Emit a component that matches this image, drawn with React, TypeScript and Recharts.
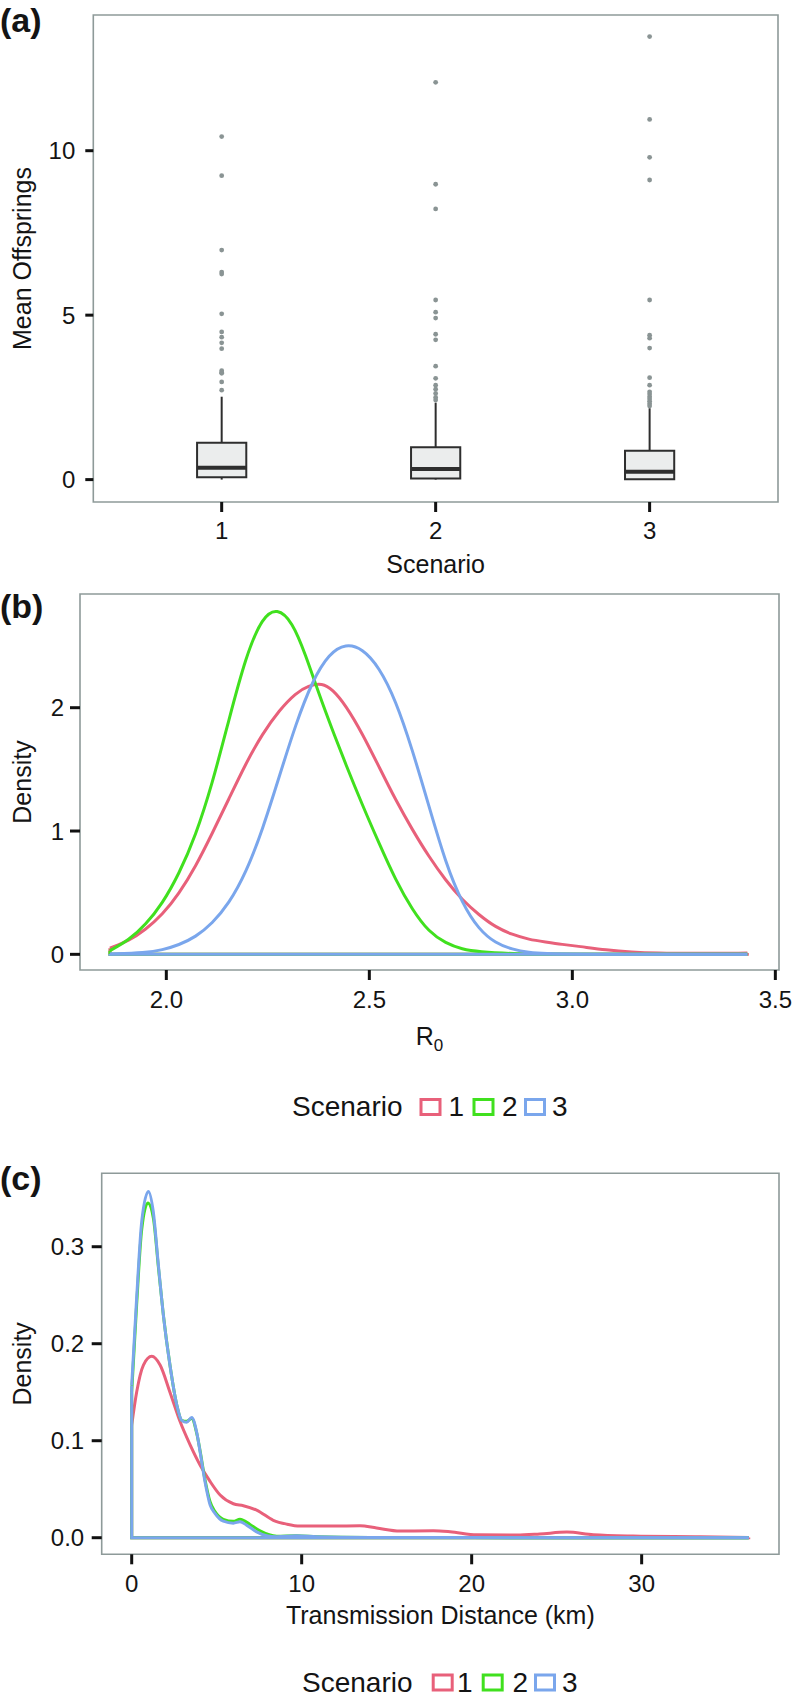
import React from 'react';
import { ComposedChart, Line, XAxis, YAxis, Scatter, ReferenceArea, ReferenceLine } from 'recharts';

const FONT = '"Liberation Sans", Arial, Helvetica, sans-serif';
const INK = '#141414';
const RED = '#E8607A';
const GREEN = '#40E01E';
const BLUE = '#7AA6EC';
const BORDER = '#8E9A99';
const OUTLIER = '#8A9494';
const BOX_FILL = '#EBEDED';
const BOX_LINE = '#2E2E2E';
const BOX_HALF = 0.115;

// ---------- Panel (a): Mean offsprings per scenario ----------
const scenarioPos = [1, 2, 3];
const whiskerLow = [0.0, 0.0, 0.0];
const q1 = [0.07, 0.03, 0.01];
const median = [0.36, 0.32, 0.24];
const q3 = [1.12, 0.98, 0.88];
const whiskerHigh = [2.52, 2.34, 2.17];
const outliers1 = [10.43, 9.24, 6.98, 6.31, 6.25, 5.04, 4.49, 4.33, 4.16, 3.98, 3.31, 3.26, 3.23, 2.97, 2.72];
const outliers2 = [12.08, 8.98, 8.23, 5.46, 5.09, 4.91, 4.42, 4.25, 3.45, 3.08, 2.87, 2.75, 2.62, 2.5, 2.42];
const outliers3 = [13.47, 10.95, 9.8, 9.11, 5.46, 4.39, 4.3, 4.0, 3.1, 2.87, 2.67, 2.6, 2.52, 2.45, 2.38, 2.31, 2.24];
const offspringTicks = [0, 5, 10];

// ---------- Panel (b): R0 densities ----------
const r0Scenario1: [number, number][] = [
  [1.861, 0.05], [1.908, 0.11], [1.949, 0.2], [1.99, 0.32], [2.031, 0.49], [2.072, 0.71], [2.113, 0.98],
  [2.154, 1.26], [2.196, 1.55], [2.237, 1.79], [2.278, 1.98], [2.319, 2.12], [2.35, 2.18], [2.384, 2.2],
  [2.409, 2.15], [2.442, 2.02], [2.483, 1.79], [2.524, 1.52], [2.565, 1.25], [2.606, 1.01], [2.647, 0.79],
  [2.688, 0.6], [2.729, 0.44], [2.77, 0.32], [2.811, 0.22], [2.852, 0.16], [2.893, 0.12], [2.934, 0.1],
  [2.975, 0.08], [3.016, 0.065], [3.084, 0.035], [3.146, 0.018], [3.208, 0.01], [3.3, 0.008], [3.431, 0.01],
];
const r0Scenario2: [number, number][] = [
  [1.861, 0.03], [1.908, 0.116], [1.949, 0.24], [1.99, 0.41], [2.031, 0.65], [2.072, 0.96], [2.113, 1.38],
  [2.154, 1.9], [2.196, 2.42], [2.237, 2.74], [2.273, 2.81], [2.31, 2.7], [2.343, 2.43], [2.376, 2.11],
  [2.409, 1.82], [2.442, 1.54], [2.483, 1.21], [2.524, 0.9], [2.565, 0.6], [2.606, 0.36], [2.647, 0.18],
  [2.688, 0.09], [2.729, 0.04], [2.77, 0.02], [2.852, 0.005], [2.95, 0.001], [3.431, 0.0],
];
const r0Scenario3: [number, number][] = [
  [1.861, 0.003], [1.949, 0.014], [1.99, 0.035], [2.031, 0.076], [2.072, 0.14], [2.113, 0.25], [2.154, 0.41],
  [2.196, 0.66], [2.237, 1.01], [2.278, 1.44], [2.319, 1.87], [2.36, 2.22], [2.401, 2.44], [2.442, 2.52],
  [2.483, 2.48], [2.524, 2.33], [2.565, 2.06], [2.606, 1.66], [2.647, 1.2], [2.688, 0.74], [2.729, 0.41],
  [2.77, 0.2], [2.811, 0.09], [2.852, 0.04], [2.893, 0.014], [2.934, 0.005], [3.0, 0.001], [3.431, 0.0],
];
const r0XTicks = [2.0, 2.5, 3.0, 3.5];
const r0YTicks = [0, 1, 2];

// ---------- Panel (c): transmission distance densities ----------
const distScenario1: [number, number][] = [
  [0, 0.116], [0.29, 0.15], [0.69, 0.178], [1.18, 0.187], [1.67, 0.178], [2.25, 0.15], [2.84, 0.12],
  [3.43, 0.096], [4.02, 0.075], [4.61, 0.058], [5.2, 0.044], [5.98, 0.035], [6.57, 0.033], [7.35, 0.0285],
  [8.33, 0.018], [9.12, 0.014], [9.9, 0.012], [11.86, 0.012], [13.43, 0.0124], [14.41, 0.01], [15.78, 0.0069],
  [17.75, 0.0072], [18.73, 0.0062], [20.3, 0.003], [22.65, 0.0027], [24.0, 0.0038], [25.6, 0.0058],
  [27.16, 0.003], [29.5, 0.0017], [33.45, 0.001], [36.3, 0.0003],
];
const distScenario2: [number, number][] = [
  [0, 0.15], [0.29, 0.24], [0.59, 0.318], [0.95, 0.345], [1.27, 0.33], [1.57, 0.279], [1.86, 0.23],
  [2.25, 0.178], [2.65, 0.137], [2.94, 0.121], [3.23, 0.12], [3.53, 0.123], [3.82, 0.108], [4.02, 0.09],
  [4.31, 0.06], [4.61, 0.037], [4.9, 0.027], [5.39, 0.019], [5.98, 0.017], [6.37, 0.019], [6.96, 0.0137],
  [7.55, 0.007], [8.53, 0.0015], [9.71, 0.002], [10.9, 0.001], [14, 0.0003], [20, 0.0001], [36.3, 0.0],
];
const distScenario3: [number, number][] = [
  [0, 0.157], [0.29, 0.247], [0.59, 0.326], [0.98, 0.357], [1.27, 0.336], [1.57, 0.281], [1.86, 0.23],
  [2.25, 0.178], [2.65, 0.137], [2.94, 0.121], [3.23, 0.119], [3.53, 0.124], [3.82, 0.109], [4.02, 0.089],
  [4.31, 0.058], [4.61, 0.034], [4.9, 0.025], [5.39, 0.017], [5.98, 0.015], [6.37, 0.0165], [6.76, 0.013],
  [7.35, 0.006], [7.94, 0.002], [8.53, 0.001], [9.71, 0.002], [10.9, 0.001], [14, 0.0003], [20, 0.0001],
  [36.3, 0.0],
];
const distXTicks = [0, 10, 20, 30];
const distYTicks = [0, 0.1, 0.2, 0.3];

const legendLabels = ['1', '2', '3'];
const legendColors = [RED, GREEN, BLUE];

const toPoints = (arr: [number, number][]) => arr.map(([x, y]) => ({ x, y }));
const frame = (arr: [number, number][]) => {
  const f = arr[0];
  const l = arr[arr.length - 1];
  return [
    { x: f[0], y: f[1] },
    { x: f[0], y: 0 },
    { x: l[0], y: 0 },
    { x: l[0], y: l[1] },
  ];
};

const tickStyle = { fontSize: 24, fill: INK, fontFamily: FONT };
const tickLineStyle = { stroke: '#111', strokeWidth: 3 };

const xTitle = (text: React.ReactNode, dy: number) => ({
  content: (p: any) => {
    const vb = p.viewBox;
    return (
      <text x={vb.x + vb.width / 2} y={vb.y + dy} textAnchor="middle" fontSize={25} fontFamily={FONT} fill={INK}>
        {text}
      </text>
    );
  },
});
const yTitle = (text: string, bx: number) => ({
  content: (p: any) => {
    const vb = p.viewBox;
    const cy = vb.y + vb.height / 2;
    const x = vb.x + bx;
    return (
      <text x={x} y={cy} transform={`rotate(-90, ${x}, ${cy})`} textAnchor="middle" fontSize={25} fontFamily={FONT} fill={INK}>
        {text}
      </text>
    );
  },
});

function PanelA() {
  const outlierData = [
    ...outliers1.map((y) => ({ x: scenarioPos[0], y })),
    ...outliers2.map((y) => ({ x: scenarioPos[1], y })),
    ...outliers3.map((y) => ({ x: scenarioPos[2], y })),
  ];
  const xDom: [number, number] = [0.4, 3.6];
  const yDom: [number, number] = [-0.681, 14.126];
  return (
    <ComposedChart width={793} height={600} margin={{ top: 15, right: 15, bottom: 0, left: 0 }}>
      <XAxis
        type="number" dataKey="x" domain={xDom} allowDataOverflow ticks={scenarioPos} interval={0}
        height={98} tickSize={10} tickMargin={10} axisLine={false} tickLine={tickLineStyle} tick={tickStyle}
        label={xTitle('Scenario', 71)}
      />
      <YAxis
        type="number" dataKey="y" domain={yDom} allowDataOverflow ticks={offspringTicks} interval={0}
        width={93.3} tickSize={8} tickMargin={10} axisLine={false} tickLine={tickLineStyle} tick={tickStyle}
        label={yTitle('Mean Offsprings', 31)}
      />
      {scenarioPos.map((s, i) => (
        <ReferenceLine key={`wh${i}`} segment={[{ x: s, y: q3[i] }, { x: s, y: whiskerHigh[i] }]} stroke={BOX_LINE} strokeWidth={2} ifOverflow="visible" />
      ))}
      {scenarioPos.map((s, i) => (
        <ReferenceLine key={`wl${i}`} segment={[{ x: s, y: whiskerLow[i] }, { x: s, y: q1[i] }]} stroke={BOX_LINE} strokeWidth={2} ifOverflow="visible" />
      ))}
      {scenarioPos.map((s, i) => (
        <ReferenceArea key={`bx${i}`} x1={s - BOX_HALF} x2={s + BOX_HALF} y1={q1[i]} y2={q3[i]} fill={BOX_FILL} fillOpacity={1} stroke={BOX_LINE} strokeWidth={2} ifOverflow="visible" />
      ))}
      {scenarioPos.map((s, i) => (
        <ReferenceLine key={`md${i}`} segment={[{ x: s - BOX_HALF, y: median[i] }, { x: s + BOX_HALF, y: median[i] }]} stroke={BOX_LINE} strokeWidth={4} ifOverflow="visible" />
      ))}
      <Scatter
        data={outlierData} dataKey="y" isAnimationActive={false}
        shape={(p: any) => <circle cx={p.cx} cy={p.cy} r={2.4} fill={OUTLIER} />}
      />
      <ReferenceArea x1={xDom[0]} x2={xDom[1]} y1={yDom[0]} y2={yDom[1]} fill="none" stroke={BORDER} strokeWidth={1.6} ifOverflow="visible" />
    </ComposedChart>
  );
}

function densityLines(series: [number, number][][], colors: string[], curve: 'basis' | 'monotone') {
  const out: React.ReactNode[] = [];
  series.forEach((s, i) => {
    out.push(
      <Line key={`c${i}`} data={toPoints(s)} dataKey="y" type={curve} stroke={colors[i]} strokeWidth={3} dot={false} activeDot={false} isAnimationActive={false} />
    );
    out.push(
      <Line key={`f${i}`} data={frame(s)} dataKey="y" type="linear" stroke={colors[i]} strokeWidth={3} dot={false} activeDot={false} isAnimationActive={false} />
    );
  });
  return out;
}

function PanelB() {
  const xDom: [number, number] = [1.7874, 3.509];
  const yDom: [number, number] = [-0.127, 2.922];
  return (
    <ComposedChart width={793} height={480} margin={{ top: 14, right: 14, bottom: 0, left: 0 }}>
      <XAxis
        type="number" dataKey="x" domain={xDom} allowDataOverflow ticks={r0XTicks} interval={0}
        tickFormatter={(v: number) => v.toFixed(1)}
        height={90} tickSize={10} tickMargin={11} axisLine={false} tickLine={tickLineStyle} tick={tickStyle}
        label={xTitle(<><tspan>R</tspan><tspan fontSize={17} dy={6}>0</tspan></>, 75)}
      />
      <YAxis
        type="number" domain={yDom} allowDataOverflow ticks={r0YTicks} interval={0}
        width={80} tickSize={10} tickMargin={6} axisLine={false} tickLine={tickLineStyle} tick={tickStyle}
        label={yTitle('Density', 31)}
      />
      {densityLines([r0Scenario1, r0Scenario2, r0Scenario3], legendColors, 'basis')}
      <ReferenceArea x1={xDom[0]} x2={xDom[1]} y1={yDom[0]} y2={yDom[1]} fill="none" stroke={BORDER} strokeWidth={1.6} ifOverflow="visible" />
    </ComposedChart>
  );
}

function PanelC() {
  const xDom: [number, number] = [-1.765, 38.08];
  const yDom: [number, number] = [-0.0171, 0.3757];
  return (
    <ComposedChart width={793} height={500} margin={{ top: 23.3, right: 14, bottom: 0, left: 0 }}>
      <XAxis
        type="number" dataKey="x" domain={xDom} allowDataOverflow ticks={distXTicks} interval={0}
        height={95.7} tickSize={10} tickMargin={11} axisLine={false} tickLine={tickLineStyle} tick={tickStyle}
        label={xTitle('Transmission Distance (km)', 70)}
      />
      <YAxis
        type="number" domain={yDom} allowDataOverflow ticks={distYTicks} interval={0}
        tickFormatter={(v: number) => v.toFixed(1)}
        width={101.7} tickSize={10} tickMargin={7.5} axisLine={false} tickLine={tickLineStyle} tick={tickStyle}
        label={yTitle('Density', 31)}
      />
      {densityLines([distScenario1, distScenario2, distScenario3], legendColors, 'monotone')}
      <ReferenceArea x1={xDom[0]} x2={xDom[1]} y1={yDom[0]} y2={yDom[1]} fill="none" stroke={BORDER} strokeWidth={1.6} ifOverflow="visible" />
    </ComposedChart>
  );
}

function ScenarioLegend({ x, baseline, boxXs, labelXs }: { x: number; baseline: number; boxXs: number[]; labelXs: number[] }) {
  return (
    <g fontFamily={FONT} fontSize={28} fill={INK}>
      <text x={x} y={baseline}>Scenario</text>
      {legendLabels.map((lab, i) => (
        <g key={lab}>
          <rect x={boxXs[i]} y={baseline - 16.5} width={19} height={15} fill="#fff" stroke={legendColors[i]} strokeWidth={3} />
          <text x={labelXs[i]} y={baseline}>{lab}</text>
        </g>
      ))}
    </g>
  );
}

export default function App() {
  return (
    <div style={{ position: 'absolute', left: 0, top: 0, width: 793, height: 1697, background: '#fff', overflow: 'hidden' }}>
      <div style={{ position: 'absolute', left: 0, top: 0 }}><PanelA /></div>
      <div style={{ position: 'absolute', left: 0, top: 580 }}><PanelB /></div>
      <div style={{ position: 'absolute', left: 0, top: 1150 }}><PanelC /></div>
      <svg width={793} height={1697} style={{ position: 'absolute', left: 0, top: 0, pointerEvents: 'none' }}>
        <g fontFamily={FONT} fontWeight="bold" fontSize={34} fill={INK}>
          <text x={0} y={31.5}>(a)</text>
          <text x={0} y={618}>(b)</text>
          <text x={0} y={1190}>(c)</text>
        </g>
        <ScenarioLegend x={292} baseline={1116} boxXs={[421, 474, 525.5]} labelXs={[448.5, 502, 552]} />
        <ScenarioLegend x={302} baseline={1691.5} boxXs={[433.2, 483.2, 535.5]} labelXs={[457, 512.5, 562]} />
      </svg>
    </div>
  );
}
